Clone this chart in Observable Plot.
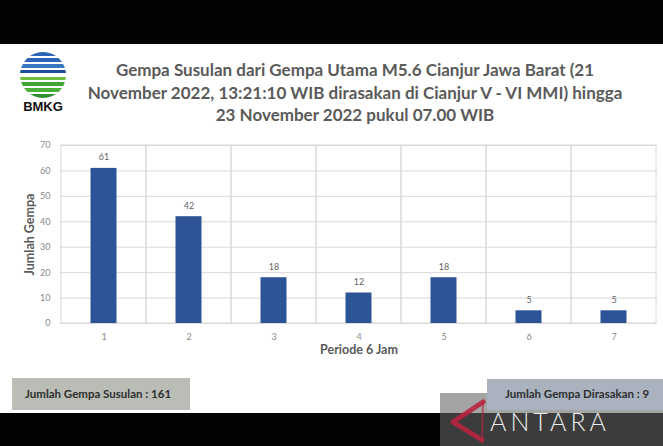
<!DOCTYPE html>
<html><head><meta charset="utf-8">
<script src="https://cdn.jsdelivr.net/npm/d3@7"></script>
<script src="https://cdn.jsdelivr.net/npm/@observablehq/plot@0.6"></script>
<style>
body{margin:0;background:#fff;}
#wrap{position:relative;width:663px;height:446px;overflow:hidden;background:#fff;font-family:Lato,"Open Sans",sans-serif;}
.abs{position:absolute;}
#topbar{left:0;top:0;width:663px;height:44px;background:#030303;}
#botbar{left:0;top:413px;width:663px;height:33px;background:#030303;}
#title{left:55px;top:59px;width:600px;text-align:center;font-weight:bold;font-size:17px;line-height:22.5px;color:#5a5a5a;}
#chart{left:0;top:130px;}
#boxL{left:12px;top:378px;width:178px;height:32px;background:#b9bdb6;font-weight:bold;font-size:11.5px;color:#2e2e2e;line-height:32px;padding-left:13px;box-sizing:border-box;}
#wm{left:440px;top:393px;width:223px;height:53px;background:rgba(100,100,100,0.59);}
#boxR{left:487px;top:379px;width:176px;height:31px;background:#aab2bf;font-weight:bold;font-size:11.5px;color:#2e2e2e;line-height:29px;padding-left:18px;box-sizing:border-box;}
#antara{left:490px;top:406px;font-size:25px;color:#ececec;letter-spacing:4px;font-weight:300;}
g[aria-label="y-axis label"] text, g[aria-label="x-axis label"] text{font-weight:bold;font-size:12.5px;fill:#595959;}
</style></head><body>
<div id="wrap">
  <div id="chart" class="abs"></div>
  <div id="topbar" class="abs"></div>
  <svg class="abs" style="left:12px;top:48px" width="62" height="70" viewBox="0 0 62 70">
    <defs><clipPath id="c"><circle cx="31" cy="27" r="23"/></clipPath></defs>
    <g clip-path="url(#c)">
      <rect x="0" y="4" width="62" height="4" fill="#2d64b3"/>
      <rect x="0" y="10" width="62" height="4" fill="#2d64b3"/>
      <rect x="0" y="16" width="62" height="4" fill="#3a78c4"/>
      <rect x="0" y="22" width="62" height="3" fill="#1e4e9a"/>
      <rect x="0" y="29" width="62" height="3" fill="#6dbf3f"/>
      <rect x="8" y="34" width="54" height="4" fill="#3fa535"/>
      <rect x="0" y="40" width="62" height="4" fill="#4caf3a"/>
      <rect x="10" y="46" width="52" height="4" fill="#2f8f2f"/>
    </g>
    <text x="31" y="63" text-anchor="middle" font-family="Liberation Sans, Arial, sans-serif" font-weight="bold" font-size="13" fill="#111">BMKG</text>
  </svg>
  <div id="title" class="abs">Gempa Susulan dari Gempa Utama M5.6 Cianjur Jawa Barat (21<br>November 2022, 13:21:10 WIB dirasakan di Cianjur V - VI MMI) hingga<br>23 November 2022 pukul 07.00 WIB</div>
  <div id="boxL" class="abs">Jumlah Gempa Susulan : 161</div>
  <div id="botbar" class="abs"></div>
  <div id="wm" class="abs"></div>
  <div id="boxR" class="abs">Jumlah Gempa Dirasakan : 9</div>
  <svg class="abs" style="left:440px;top:390px" width="56" height="56" viewBox="0 0 56 56">
    <path d="M13 32 L43 12 M13 32 L42 50" stroke="#b8233f" stroke-width="5" fill="none" stroke-linecap="round" opacity="0.9"/>
    <path d="M43 12 L42 50" stroke="#b8233f" stroke-width="2" fill="none" opacity="0.6"/>
  </svg>
  <div id="antara" class="abs">ANTARA</div>
</div>
<script>
const periods = [1, 2, 3, 4, 5, 6, 7];
const counts = [61, 42, 18, 12, 18, 5, 5];
const yTicks = [0, 10, 20, 30, 40, 50, 60, 70];
const xLabel = "Periode 6 Jam";
const yLabel = "Jumlah Gempa";

const data = periods.map((p, i) => ({period: p, count: counts[i]}));

const chart = Plot.plot({
  width: 663,
  height: 240,
  marginTop: 15,
  marginBottom: 47,
  marginLeft: 60,
  marginRight: 6,
  style: {fontFamily: "Lato, 'Open Sans', sans-serif", background: "transparent"},
  x: {type: "band", domain: periods, padding: 0},
  y: {domain: [yTicks[0], yTicks[yTicks.length - 1]]},
  marks: [
    Plot.gridY(yTicks, {stroke: "#d9d9d9", strokeOpacity: 1}),
    Plot.barY(periods, {x: d => d, y1: yTicks[0], y2: yTicks[yTicks.length - 1], fill: "none", stroke: "#d9d9d9"}),
    Plot.barY(data, {x: "period", y: "count", fill: "#2d5496", insetLeft: 29.5, insetRight: 29.5}),
    Plot.text(data, {x: "period", y: "count", text: d => String(d.count), dy: -11, fill: "#5f5f5f", fontSize: 9}),
    Plot.axisY(yTicks, {tickSize: 0, tickPadding: 10, fontSize: 9, color: "#8a8a8a", label: yLabel, labelAnchor: "center", labelOffset: 35, labelArrow: "none"}),
    Plot.axisX({tickSize: 0, tickPadding: 10, fontSize: 9, color: "#8a8a8a", label: xLabel, labelAnchor: "center", labelOffset: 30, labelArrow: "none"})
  ]
});
document.getElementById("chart").appendChild(chart);
</script>
</body></html>
